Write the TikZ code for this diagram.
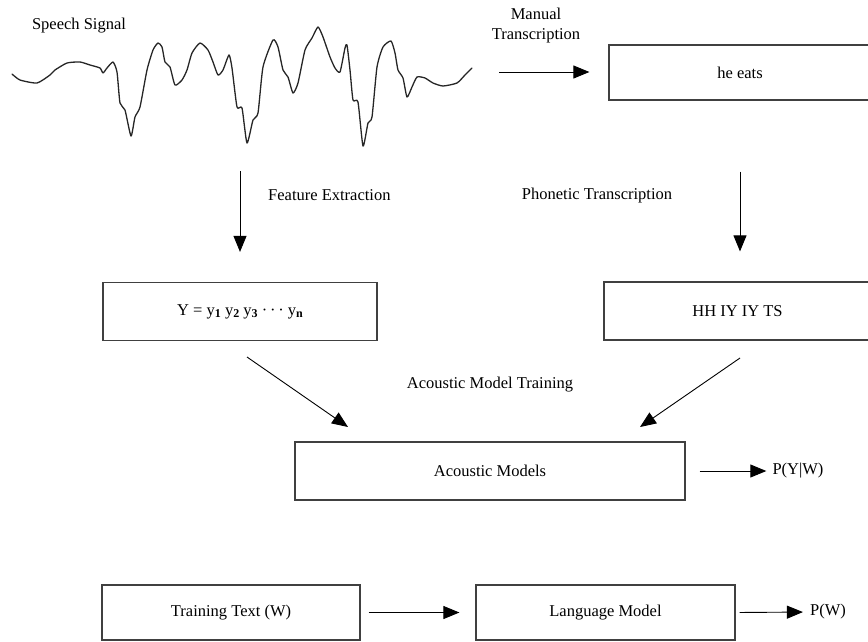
\documentclass[tikz,border=0pt]{standalone}
\usepackage{fontspec}
\setmainfont{Liberation Serif}
\usetikzlibrary{arrows.meta}

\tikzset{
  stagebox/.style={draw=black!75, line width=1.2pt, fill=white, inner sep=0pt,
                   font=\fontsize{16.5}{20}\selectfont},
  arr/.style={-{Triangle[length=16pt,width=13pt]}, line width=0.9pt, black},
  lbl/.style={font=\fontsize{16.5}{20}\selectfont, inner sep=0pt, align=center},
  wave/.style={line width=1.3pt, black!85, line join=round, line cap=round}
}

\newcommand{\bsub}[1]{\raisebox{-0.35ex}{\fontsize{12}{12}\selectfont\bfseries #1}}

\begin{document}
\begin{tikzpicture}[x=1pt,y=-1pt]
\useasboundingbox (0,0) rectangle (868,641);
\clip (0,0) rectangle (868,641);

% speech waveform
\draw[wave] plot[smooth, tension=0.35] coordinates {
 (12,74) (20,80) (37,83) (50,75) (55,70) (67,63) (80,62) (90,65) (100,68)
 (103,73) (107,68) (113,62) (117,72) (120,103) (125,110) (131,136) (135,117)
 (140,107) (147,70) (153,50) (158,43) (162,47) (165,62) (170,67) (175,85)
 (182,80) (187,70) (192,53) (200,43) (208,50) (213,62) (218,75) (223,70)
 (229,55) (232,68) (237,107) (242,108) (247,143) (253,120) (258,113) (263,67)
 (273,40) (278,47) (283,70) (288,77) (293,93) (298,83) (305,50) (312,38)
 (318,27) (323,37) (330,57) (335,68) (340,72) (345,48) (347,45) (350,70)
 (353,100) (358,102) (363,146) (368,123) (372,117) (377,67) (383,47) (391,41)
 (395,53) (398,70) (403,78) (407,97) (412,87) (417,77) (425,78) (433,83)
 (443,86) (457,83) (465,75) (472,68)};
\node[lbl] (speech) at (79,26) {Speech Signal};

% boxes
\node[stagebox, minimum width=262pt, minimum height=55pt] (heeats) at (740,72.5) {he eats};
\node[stagebox, minimum width=274pt, minimum height=58pt] (ybox) at (240,311.5)
  {Y = y\bsub{1} y\bsub{2} y\bsub{3} \textperiodcentered\,\textperiodcentered\,\textperiodcentered\ y\bsub{n}};
\node[stagebox, minimum width=267pt, minimum height=58pt] (hh) at (737.5,311) {HH IY IY TS};
\node[stagebox, minimum width=390pt, minimum height=58pt] (am) at (490,471) {Acoustic Models};
\node[stagebox, minimum width=258pt, minimum height=55pt] (tt) at (231,612.5) {Training Text (W)};
\node[stagebox, minimum width=259pt, minimum height=55pt] (lm) at (605.5,612.5) {Language Model};

% outputs
\node[lbl] (pyw) at (798,471) {P(Y|W)};
\node[lbl] (pw) at (828,612) {P(W)};

% edge labels
\node[lbl] (mt) at (536,26) {Manual\\Transcription};
\node[lbl, anchor=west] (fe) at (268,195) {Feature Extraction};
\node[lbl] (pt) at (597,196) {Phonetic Transcription};
\node[lbl] (amt) at (490,385) {Acoustic Model Training};

% arrow end points
\coordinate (m0) at (499,72);
\coordinate (fe0) at (240,171);
\coordinate (d1a) at (247,357);
\coordinate (d1b) at (348,427);
\coordinate (d2a) at (740,358);
\coordinate (d2b) at (640,427);

% connectors
\draw[arr, shorten >=19pt] (m0) -- (heeats.west |- m0);
\draw[arr, shorten >=30pt] (fe0) -- (ybox.north);
\draw[arr, shorten <=71pt, shorten >=30pt] (heeats.south) -- (heeats.south |- hh.north);
\draw[arr] (d1a) -- (d1b);
\draw[arr] (d2a) -- (d2b);
\draw[arr, shorten <=14pt, shorten >=6pt] (am.east) -- (pyw.west);
\draw[arr, shorten <=8pt, shorten >=16pt] (tt.east) -- (lm.west);
\draw[arr, shorten <=4pt, shorten >=7pt] (lm.east) -- (pw.west);
\end{tikzpicture}
\end{document}
